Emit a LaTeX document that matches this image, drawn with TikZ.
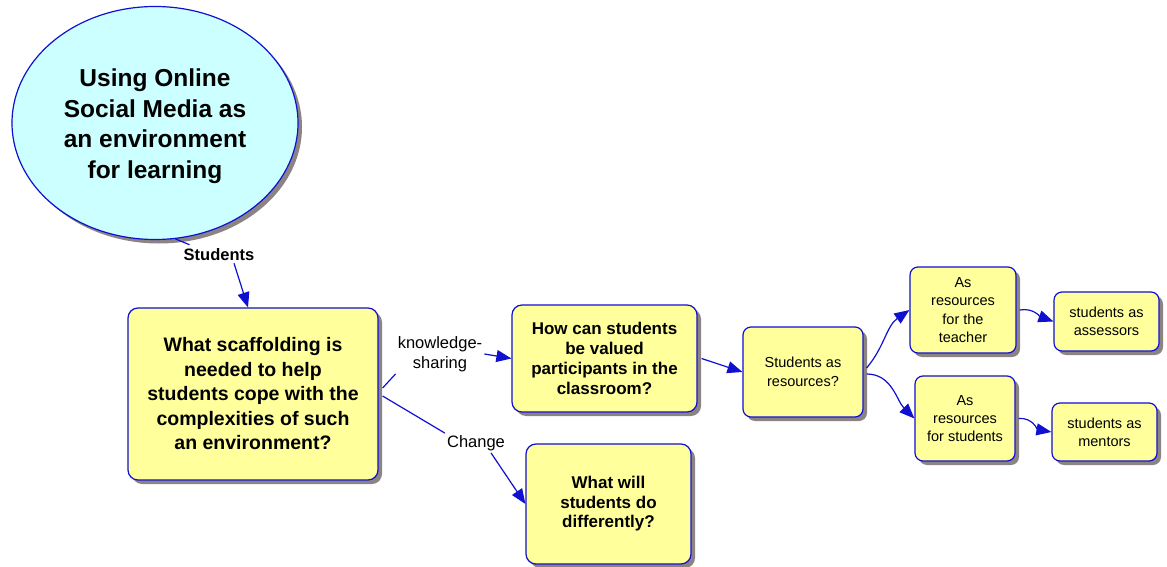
\documentclass[tikz,border=0pt]{standalone}
\usepackage{fontspec}
\setmainfont{Liberation Sans}
\usetikzlibrary{arrows.meta,shapes.geometric,shadows}
\definecolor{cyanfill}{HTML}{CCFFFF}
\definecolor{yel}{HTML}{FFFF9C}
\definecolor{bord}{HTML}{1010D0}
\definecolor{shad}{HTML}{8C8484}
\tikzset{
  shad/.style={drop shadow={shadow xshift=4pt, shadow yshift=-4pt, fill=shad, opacity=1}},
  box/.style={rectangle, rounded corners=10pt, draw=bord, line width=1.2pt, fill=yel, align=center, inner sep=0pt, shad},
  sbox/.style={box, rounded corners=8pt},
  ell/.style={ellipse, draw=bord, line width=1.2pt, fill=cyanfill, align=center, inner sep=0pt, shad},
  lbl/.style={align=center, inner sep=2pt, font=\fontsize{16.5}{20}\selectfont},
  con/.style={draw=bord, line width=1.2pt},
  arr/.style={con, -{Triangle[length=15pt,width=12pt]}}
}
\begin{document}
\begin{tikzpicture}[x=1pt,y=-1pt]
\useasboundingbox (0,0) rectangle (1167,567);

\node[ell, minimum width=286pt, minimum height=233pt] (ell) at (155,123) {};
\node[align=center, font=\fontsize{24.5}{30.5}\selectfont\bfseries] (title) at (155,126) {Using Online\\Social Media as\\an environment\\for learning};

\node[box, minimum width=250pt, minimum height=172pt, font=\fontsize{19.5}{24.5}\selectfont\bfseries] (box1) at (253,394) {What scaffolding is\\needed to help\\students cope with the\\complexities of such\\an environment?};

\node[box, minimum width=185pt, minimum height=107pt, font=\fontsize{17}{20}\selectfont\bfseries] (box2) at (604.5,358.5) {How can students\\be valued\\participants in the\\classroom?};

\node[box, minimum width=165pt, minimum height=120pt, font=\fontsize{17}{19.5}\selectfont\bfseries] (box3) at (608.5,504) {What will\\students do\\differently?};

\node[sbox, minimum width=120pt, minimum height=90pt, font=\fontsize{14.5}{19}\selectfont] (box4) at (803,372) {Students as\\resources?};

\node[sbox, minimum width=106pt, minimum height=86pt, font=\fontsize{14.5}{18.6}\selectfont] (box5) at (963,310) {As\\resources\\for the\\teacher};

\node[sbox, minimum width=105pt, minimum height=59pt, font=\fontsize{14.5}{18}\selectfont] (box6) at (1106.5,321.5) {students as\\assessors};

\node[sbox, minimum width=100pt, minimum height=85pt, font=\fontsize{14.5}{18}\selectfont] (box7) at (965,418.5) {As\\resources\\for students};

\node[sbox, minimum width=105pt, minimum height=58pt, font=\fontsize{14.5}{18}\selectfont] (box8) at (1104.5,432) {students as\\mentors};

\node[lbl, font=\fontsize{16.5}{20}\selectfont\bfseries] (lstud) at (219,255) {Students};
\node[lbl] (lks) at (440,354) {knowledge-\\sharing};
\node[lbl] (lch) at (476,443) {Change};

\draw[con] (ell.-80) -- ([xshift=8pt,yshift=2pt]lstud.north west);
\draw[arr] ([xshift=15pt]lstud.south) -- ([xshift=-5pt]box1.north);
\draw[con] ([yshift=6pt,xshift=4pt]box1.east) -- (lks.south west);
\draw[arr] (lks.east) -- (box2.west);
\draw[con] ([yshift=-2pt,xshift=4pt]box1.east) -- (lch.north west);
\draw[arr] ([xshift=15pt]lch.south) -- (box3.west);
\draw[arr] ([xshift=4pt]box2.east) -- (box4.west);
\draw[arr] ([xshift=3pt,yshift=4pt]box4.east) to[out=50, in=215] (box5.west);
\draw[arr] ([xshift=3pt,yshift=-2pt]box4.east) to[out=0, in=135] (box7.west);
\draw[arr] ([xshift=3pt]box5.east) to[out=10, in=160] (box6.west);
\draw[arr] ([xshift=3pt]box7.east) to[out=5, in=170] (box8.west);
\end{tikzpicture}
\end{document}
